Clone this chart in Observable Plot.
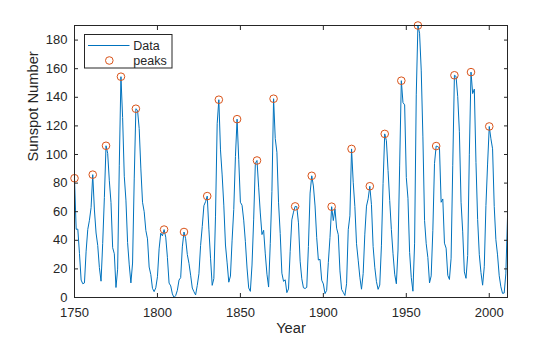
<!DOCTYPE html>
<html>
<head>
<meta charset="utf-8">
<script src="https://cdn.jsdelivr.net/npm/d3@7"></script>
<script src="https://cdn.jsdelivr.net/npm/@observablehq/plot@0.6"></script>
<style>
  body { margin: 0; background: #fff; }
  #chart { position: relative; width: 560px; height: 337px; font-family: "Liberation Sans", Arial, sans-serif; }
</style>
</head>
<body>
<div id="chart"></div>
<script>
const startYear = 1750;
const spots = [
  83.4, 47.7, 47.8, 30.7, 12.2, 9.6, 10.2, 32.4, 47.6, 54.0,
  62.9, 85.9, 61.2, 45.1, 36.4, 20.9, 11.4, 37.8, 69.8, 106.1,
  100.8, 81.6, 66.5, 34.8, 30.6, 7.0, 19.8, 92.5, 154.4, 125.9,
  84.8, 68.1, 38.5, 22.8, 10.2, 24.1, 82.9, 132.0, 130.9, 118.1,
  89.9, 66.6, 60.0, 46.9, 41.0, 21.3, 16.0, 6.4, 4.1, 6.8,
  14.5, 34.0, 45.0, 43.1, 47.5, 42.2, 28.1, 10.1, 8.1, 2.5,
  0.0, 1.4, 5.0, 12.2, 13.9, 35.4, 45.8, 41.1, 30.1, 23.9,
  15.6, 6.6, 4.0, 1.8, 8.5, 16.6, 36.3, 49.6, 64.2, 67.0,
  70.9, 47.8, 27.5, 8.5, 13.2, 56.9, 121.5, 138.3, 103.2, 85.7,
  64.6, 36.7, 24.2, 10.7, 15.0, 40.1, 61.5, 98.5, 124.7, 96.3,
  66.6, 64.5, 54.1, 39.0, 20.6, 6.7, 4.3, 22.7, 54.8, 93.8,
  95.8, 77.2, 59.1, 44.0, 47.0, 30.5, 16.3, 7.3, 37.6, 74.0,
  139.0, 111.2, 101.6, 66.2, 44.7, 17.0, 11.3, 12.4, 3.4, 6.0,
  32.3, 54.3, 59.7, 63.7, 63.5, 52.2, 25.4, 13.1, 6.8, 6.3,
  7.1, 35.6, 73.0, 85.1, 78.0, 64.0, 41.8, 26.2, 26.7, 12.1,
  9.5, 2.7, 5.0, 24.4, 42.0, 63.5, 53.8, 62.0, 48.5, 43.9,
  18.6, 5.7, 3.6, 1.4, 9.6, 47.4, 57.1, 103.9, 80.6, 63.6,
  37.6, 26.1, 14.2, 5.8, 16.7, 44.3, 63.9, 69.0, 77.8, 64.9,
  35.7, 21.2, 11.1, 5.7, 8.7, 36.1, 79.7, 114.4, 109.6, 88.8,
  67.8, 47.5, 30.6, 16.3, 9.6, 33.2, 92.6, 151.6, 136.3, 134.7,
  83.9, 69.4, 31.5, 13.9, 4.4, 38.0, 141.7, 190.2, 184.8, 159.0,
  112.3, 53.9, 37.6, 27.9, 10.2, 15.1, 47.0, 93.8, 105.9, 105.5,
  104.5, 66.6, 68.9, 38.0, 34.5, 15.5, 12.6, 27.5, 92.5, 155.4,
  154.6, 140.4, 115.9, 66.6, 45.9, 17.9, 13.4, 29.4, 100.2, 157.6,
  142.6, 145.7, 94.3, 54.6, 29.9, 17.5, 8.6, 21.5, 64.3, 93.3,
  119.6, 111.0, 104.0, 63.7, 40.4, 29.8, 15.2, 7.5, 2.9, 3.1,
  16.5, 55.7
];
const peakYears = [1750, 1761, 1769, 1778, 1787, 1804, 1816, 1830, 1837, 1848, 1860, 1870,
  1883, 1893, 1905, 1917, 1928, 1937, 1947, 1957, 1968, 1979, 1989, 2000];
const xTicks = [1750, 1800, 1850, 1900, 1950, 2000];
const yTicks = [0, 20, 40, 60, 80, 100, 120, 140, 160, 180];
const xLabel = "Year";
const yLabel = "Sunspot Number";
const legendLabels = ["Data", "peaks"];

const data = spots.map((v, i) => ({year: startYear + i, value: v}));
const peaks = peakYears.map(y => ({year: y, value: spots[y - startYear]}));

const ink = "#262626";
const blue = "#0072BD";
const orange = "#D95319";

const chart = Plot.plot({
  width: 560,
  height: 337,
  marginLeft: 74,
  marginRight: 53,
  marginTop: 25,
  marginBottom: 40,
  style: {fontFamily: "'Liberation Sans', Arial, sans-serif", fontSize: "13px", color: ink, background: "#fff"},
  x: {domain: [1750, 2011]},
  y: {domain: [0, d3.max(spots)]},
  marks: [
    Plot.line(data, {x: "year", y: "value", stroke: blue, strokeWidth: 1}),
    Plot.dot(peaks, {x: "year", y: "value", r: 3.8, stroke: orange, strokeWidth: 1, fill: "none"}),
    Plot.frame({stroke: ink, strokeWidth: 1}),
    Plot.axisX(xTicks, {anchor: "bottom", tickSize: 0, tickPadding: 10, tickFormat: d => String(d), label: null, fill: ink}),
    Plot.axisX(xTicks, {anchor: "bottom", tickSize: -4, fill: "none", label: null, stroke: ink}),
    Plot.axisX(xTicks, {anchor: "top", tickSize: -4, fill: "none", label: null, stroke: ink}),
    Plot.axisY(yTicks, {anchor: "left", tickSize: 0, tickPadding: 7, tickFormat: d => String(d), label: null, fill: ink}),
    Plot.axisY(yTicks, {anchor: "left", tickSize: -4, fill: "none", label: null, stroke: ink}),
    Plot.axisY(yTicks, {anchor: "right", tickSize: -4, fill: "none", label: null, stroke: ink}),
    Plot.text([xLabel], {text: d => d, frameAnchor: "bottom", lineAnchor: "middle", dy: 31, fontSize: 14.7, fill: ink}),
    Plot.text([yLabel], {text: d => d, frameAnchor: "left", rotate: -90, lineAnchor: "middle", dx: -41.5, fontSize: 14.7, fill: ink})
  ]
});

const root = document.getElementById("chart");
root.appendChild(chart);

// Legend (MATLAB-style box)
const leg = d3.create("svg")
  .attr("width", 89).attr("height", 35)
  .style("position", "absolute").style("left", "84px").style("top", "33.5px")
  .style("overflow", "visible");
leg.append("rect").attr("x", 0.5).attr("y", 0.5).attr("width", 87.5).attr("height", 33.5)
  .attr("fill", "#fff").attr("stroke", ink).attr("stroke-width", 1);
leg.append("line").attr("x1", 4).attr("x2", 45.5).attr("y1", 11.5).attr("y2", 11.5)
  .attr("stroke", blue).attr("stroke-width", 1);
leg.append("circle").attr("cx", 25.3).attr("cy", 26.5).attr("r", 3.8)
  .attr("fill", "none").attr("stroke", orange).attr("stroke-width", 1);
leg.selectAll("text.lab").data(legendLabels).join("text")
  .attr("class", "lab")
  .attr("x", 49.3).attr("y", (d, i) => 15.5 + i * 15)
  .attr("font-family", "'Liberation Sans', Arial, sans-serif")
  .attr("font-size", 12.5).attr("fill", ink)
  .text(d => d);
root.appendChild(leg.node());
</script>
</body>
</html>
